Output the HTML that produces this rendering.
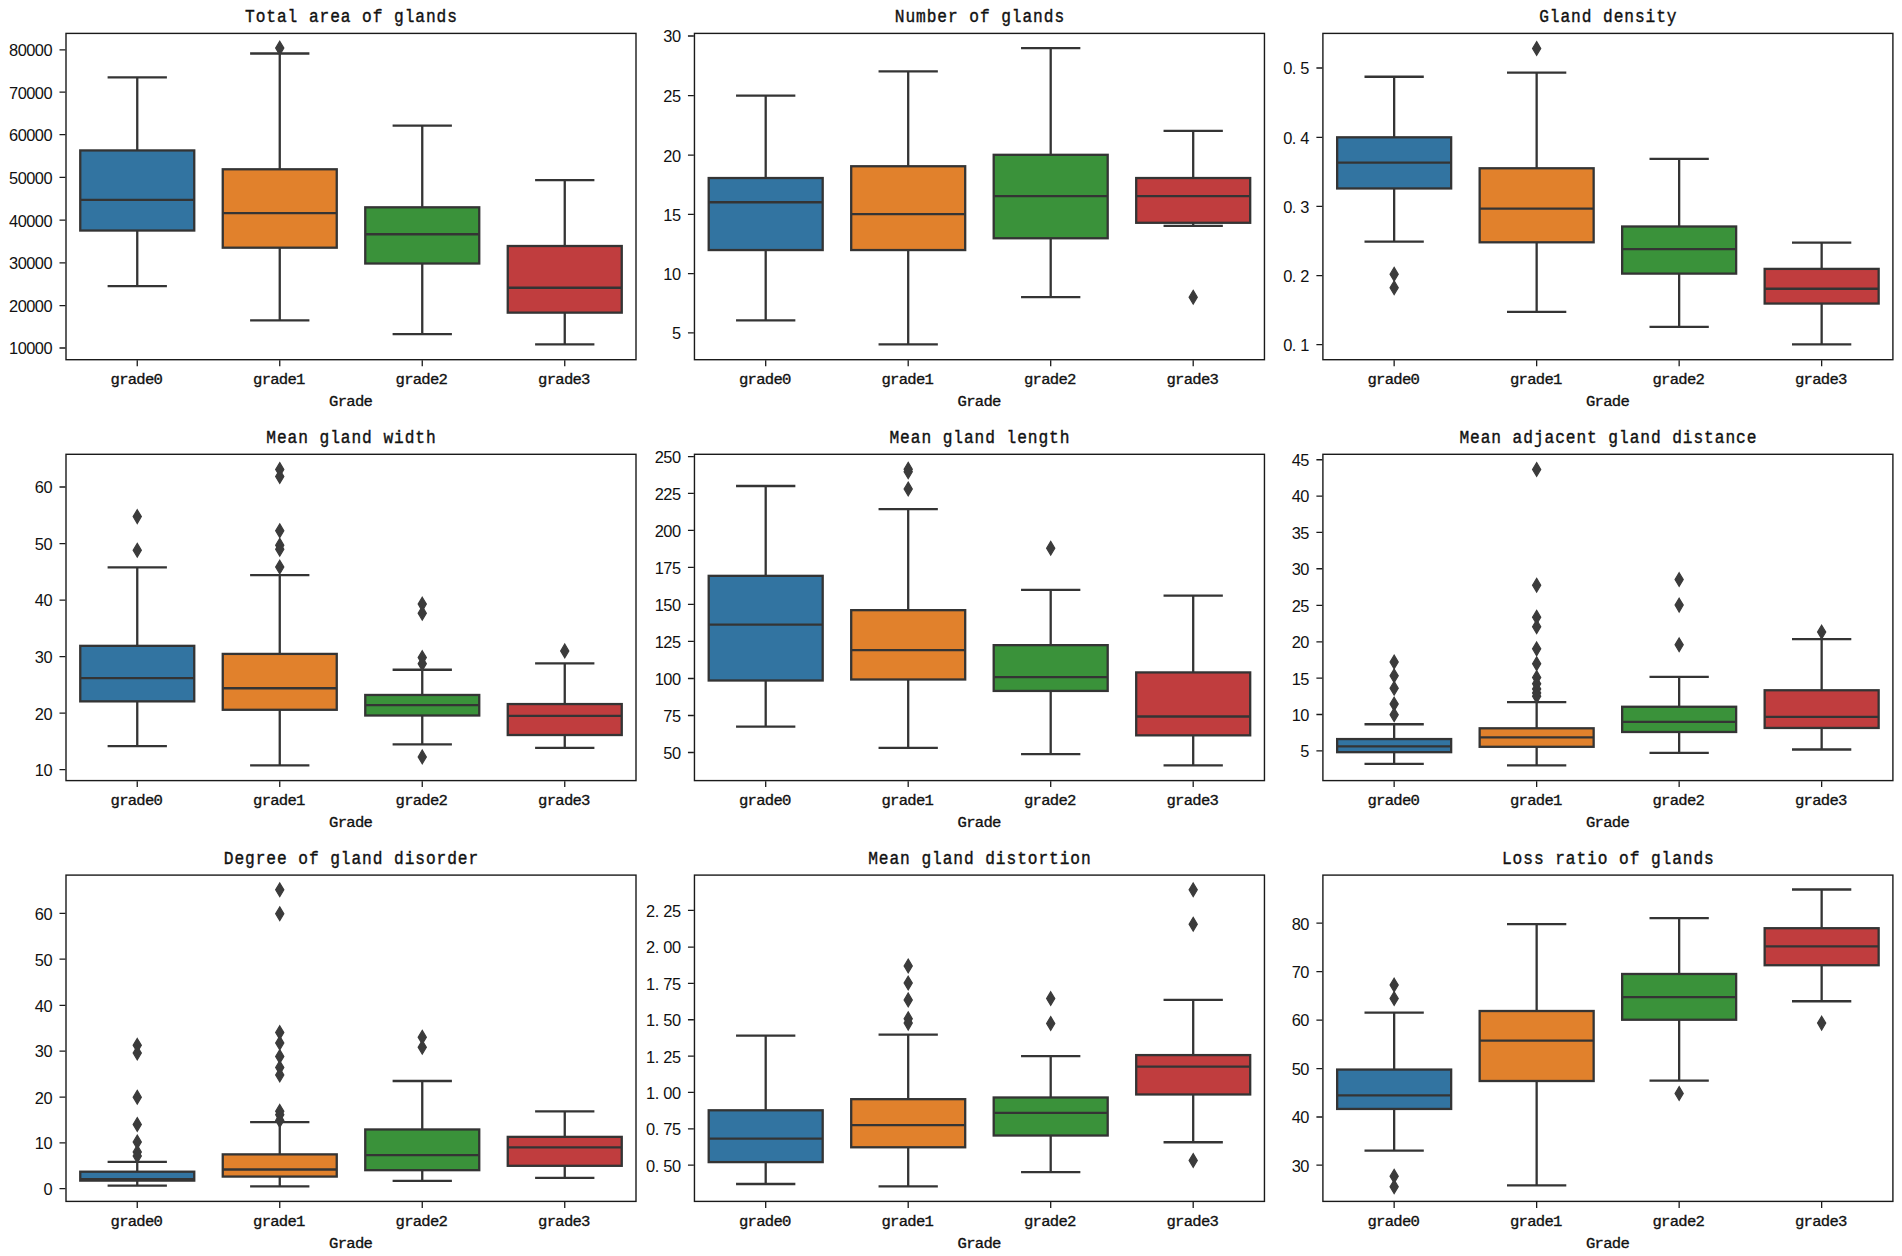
<!DOCTYPE html>
<html lang="en"><head><meta charset="utf-8"><title>Gland feature box plots by grade</title>
<style>
html,body{margin:0;padding:0;background:#fff}
svg{display:block}
text{fill:#111;white-space:pre}
.m{stroke:#111;stroke-width:.35}
.m{font-family:"Liberation Mono","DejaVu Sans Mono",monospace}
.n{font-family:"Liberation Sans","DejaVu Sans",sans-serif}
.l{stroke:#343434;stroke-width:2.3;fill:none;stroke-linecap:square}
.k{stroke-linecap:butt}
.b{stroke:#343434;stroke-width:2.3}
.d{fill:#3b3b3b;stroke:#3b3b3b;stroke-width:1.2;stroke-linejoin:miter}
.s{fill:none;stroke:#1a1a1a;stroke-width:1.4}
.t{stroke:#1a1a1a;stroke-width:1.3;fill:none}
</style></head><body>
<svg width="1902" height="1256" viewBox="0 0 1902 1256">
<rect width="1902" height="1256" fill="#fff"/>
<g>
<path class="l" d="M137.25 77.4V150.43M137.25 230.53V286.06M108.75 77.4H165.75M108.75 286.06H165.75"/>
<rect class="b" x="80.25" y="150.43" width="114" height="80.1" fill="#3274a1"/>
<path class="l k" d="M80.25 199.9H194.25"/>
<path class="l" d="M279.75 53.51V169.28M279.75 247.69V320.38M251.25 53.51H308.25M251.25 320.38H308.25"/>
<rect class="b" x="222.75" y="169.28" width="114" height="78.41" fill="#e1812c"/>
<path class="l k" d="M222.75 213.03H336.75"/>
<path class="d" d="M279.75 41.27l4.1 6.85l-4.1 6.85l-4.1 -6.85z"/>
<path class="l" d="M422.25 125.53V207.31M422.25 263.51V334.18M393.75 125.53H450.75M393.75 334.18H450.75"/>
<rect class="b" x="365.25" y="207.31" width="114" height="56.2" fill="#3a923a"/>
<path class="l k" d="M365.25 234.23H479.25"/>
<path class="l" d="M564.75 180.05V246.01M564.75 312.64V344.28M536.25 180.05H593.25M536.25 344.28H593.25"/>
<rect class="b" x="507.75" y="246.01" width="114" height="66.63" fill="#c03d3e"/>
<path class="l k" d="M507.75 287.74H621.75"/>
<rect class="s" x="66" y="33.4" width="570" height="326.3"/>
<path class="t" d="M65.4 49.81h-5.9M65.4 92.21h-5.9M65.4 134.62h-5.9M65.4 177.36h-5.9M65.4 220.1h-5.9M65.4 262.84h-5.9M65.4 305.58h-5.9M65.4 347.98h-5.9M137.25 360.3v5.9M279.75 360.3v5.9M422.25 360.3v5.9M564.75 360.3v5.9"/>
<text class="n" x="9.04 17.64 26.24 34.84 43.44" y="56.21" font-size="16.4">80000</text>
<text class="n" x="9.04 17.64 26.24 34.84 43.44" y="98.61" font-size="16.4">70000</text>
<text class="n" x="9.04 17.64 26.24 34.84 43.44" y="141.02" font-size="16.4">60000</text>
<text class="n" x="9.04 17.64 26.24 34.84 43.44" y="183.76" font-size="16.4">50000</text>
<text class="n" x="9.04 17.64 26.24 34.84 43.44" y="226.5" font-size="16.4">40000</text>
<text class="n" x="9.04 17.64 26.24 34.84 43.44" y="269.24" font-size="16.4">30000</text>
<text class="n" x="9.04 17.64 26.24 34.84 43.44" y="311.98" font-size="16.4">20000</text>
<text class="n" x="9.04 17.64 26.24 34.84 43.44" y="354.38" font-size="16.4">10000</text>
<text class="m" transform="translate(0 384.2) scale(1 0.88)" x="110.52 119.14 127.76 136.38 145 153.62" y="0" font-size="15.6">grade0</text>
<text class="m" transform="translate(0 384.2) scale(1 0.88)" x="253.02 261.64 270.26 278.88 287.5 296.12" y="0" font-size="15.6">grade1</text>
<text class="m" transform="translate(0 384.2) scale(1 0.88)" x="395.52 404.14 412.76 421.38 430 438.62" y="0" font-size="15.6">grade2</text>
<text class="m" transform="translate(0 384.2) scale(1 0.88)" x="538.02 546.64 555.26 563.88 572.5 581.12" y="0" font-size="15.6">grade3</text>
<text class="m" transform="translate(0 406.3) scale(1 0.88)" x="329.08 337.7 346.32 354.94 363.56" y="0" font-size="15.6">Grade</text>
<text class="m" transform="translate(0 21.8) scale(1 1.19)" x="245.06 255.7 266.34 276.98 287.62 298.26 308.9 319.54 330.18 340.82 351.46 362.1 372.74 383.38 394.02 404.66 415.3 425.94 436.58 447.22" y="0" font-size="16.2">Total area of glands</text>
</g>
<g>
<path class="l" d="M765.7 95.58V178.03M765.7 250.05V320.38M737.2 95.58H794.2M737.2 320.38H794.2"/>
<rect class="b" x="708.7" y="178.03" width="114" height="72.02" fill="#3274a1"/>
<path class="l k" d="M708.7 202.26H822.7"/>
<path class="l" d="M908.2 71.35V166.25M908.2 250.05V344.28M879.7 71.35H936.7M879.7 344.28H936.7"/>
<rect class="b" x="851.2" y="166.25" width="114" height="83.8" fill="#e1812c"/>
<path class="l k" d="M851.2 214.04H965.2"/>
<path class="l" d="M1050.7 48.12V154.81M1050.7 238.27V297.16M1022.2 48.12H1079.2M1022.2 297.16H1079.2"/>
<rect class="b" x="993.7" y="154.81" width="114" height="83.46" fill="#3a923a"/>
<path class="l k" d="M993.7 196.2H1107.7"/>
<path class="l" d="M1193.2 130.91V178.03M1193.2 222.79V225.82M1164.7 130.91H1221.7M1164.7 225.82H1221.7"/>
<rect class="b" x="1136.2" y="178.03" width="114" height="44.76" fill="#c03d3e"/>
<path class="l k" d="M1136.2 196.2H1250.2"/>
<path class="d" d="M1193.2 290.31l4.1 6.85l-4.1 6.85l-4.1 -6.85z"/>
<rect class="s" x="694.45" y="33.4" width="570" height="326.3"/>
<path class="t" d="M693.85 36.01h-5.9M693.85 95.58h-5.9M693.85 155.14h-5.9M693.85 214.38h-5.9M693.85 273.61h-5.9M693.85 332.84h-5.9M765.7 360.3v5.9M908.2 360.3v5.9M1050.7 360.3v5.9M1193.2 360.3v5.9"/>
<text class="n" x="663.29 671.89" y="42.41" font-size="16.4">30</text>
<text class="n" x="663.29 671.89" y="101.98" font-size="16.4">25</text>
<text class="n" x="663.29 671.89" y="161.54" font-size="16.4">20</text>
<text class="n" x="663.29 671.89" y="220.78" font-size="16.4">15</text>
<text class="n" x="663.29 671.89" y="280.01" font-size="16.4">10</text>
<text class="n" x="671.89" y="339.24" font-size="16.4">5</text>
<text class="m" transform="translate(0 384.2) scale(1 0.88)" x="738.97 747.59 756.21 764.83 773.45 782.07" y="0" font-size="15.6">grade0</text>
<text class="m" transform="translate(0 384.2) scale(1 0.88)" x="881.47 890.09 898.71 907.33 915.95 924.57" y="0" font-size="15.6">grade1</text>
<text class="m" transform="translate(0 384.2) scale(1 0.88)" x="1023.97 1032.59 1041.21 1049.83 1058.45 1067.07" y="0" font-size="15.6">grade2</text>
<text class="m" transform="translate(0 384.2) scale(1 0.88)" x="1166.47 1175.09 1183.71 1192.33 1200.95 1209.57" y="0" font-size="15.6">grade3</text>
<text class="m" transform="translate(0 406.3) scale(1 0.88)" x="957.53 966.15 974.77 983.39 992.01" y="0" font-size="15.6">Grade</text>
<text class="m" transform="translate(0 21.8) scale(1 1.19)" x="894.79 905.43 916.07 926.71 937.35 947.99 958.63 969.27 979.91 990.55 1001.19 1011.83 1022.47 1033.11 1043.75 1054.39" y="0" font-size="16.2">Number of glands</text>
</g>
<g>
<path class="l" d="M1394.15 76.73V137.31M1394.15 188.46V241.63M1365.65 76.73H1422.65M1365.65 241.63H1422.65"/>
<rect class="b" x="1337.15" y="137.31" width="114" height="51.15" fill="#3274a1"/>
<path class="l k" d="M1337.15 162.55H1451.15"/>
<path class="d" d="M1394.15 267.43l4.1 6.85l-4.1 6.85l-4.1 -6.85z"/>
<path class="d" d="M1394.15 280.89l4.1 6.85l-4.1 6.85l-4.1 -6.85z"/>
<path class="l" d="M1536.65 72.69V168.27M1536.65 242.31V311.97M1508.15 72.69H1565.15M1508.15 311.97H1565.15"/>
<rect class="b" x="1479.65" y="168.27" width="114" height="74.04" fill="#e1812c"/>
<path class="l k" d="M1479.65 208.65H1593.65"/>
<path class="d" d="M1536.65 41.61l4.1 6.85l-4.1 6.85l-4.1 -6.85z"/>
<path class="l" d="M1679.15 158.85V226.49M1679.15 273.61V326.78M1650.65 158.85H1707.65M1650.65 326.78H1707.65"/>
<rect class="b" x="1622.15" y="226.49" width="114" height="47.12" fill="#3a923a"/>
<path class="l k" d="M1622.15 249.04H1736.15"/>
<path class="l" d="M1821.65 242.64V268.89M1821.65 303.56V344.28M1793.15 242.64H1850.15M1793.15 344.28H1850.15"/>
<rect class="b" x="1764.65" y="268.89" width="114" height="34.66" fill="#c03d3e"/>
<path class="l k" d="M1764.65 288.75H1878.65"/>
<rect class="s" x="1322.9" y="33.4" width="570" height="326.3"/>
<path class="t" d="M1322.3 67.98h-5.9M1322.3 137.31h-5.9M1322.3 206.3h-5.9M1322.3 275.62h-5.9M1322.3 344.62h-5.9M1394.15 360.3v5.9M1536.65 360.3v5.9M1679.15 360.3v5.9M1821.65 360.3v5.9"/>
<text class="n" x="1283.14 1291.8 1300.34" y="74.38" font-size="16.4">0.5</text>
<text class="n" x="1283.14 1291.8 1300.34" y="143.71" font-size="16.4">0.4</text>
<text class="n" x="1283.14 1291.8 1300.34" y="212.7" font-size="16.4">0.3</text>
<text class="n" x="1283.14 1291.8 1300.34" y="282.02" font-size="16.4">0.2</text>
<text class="n" x="1283.14 1291.8 1300.34" y="351.02" font-size="16.4">0.1</text>
<text class="m" transform="translate(0 384.2) scale(1 0.88)" x="1367.42 1376.04 1384.66 1393.28 1401.9 1410.52" y="0" font-size="15.6">grade0</text>
<text class="m" transform="translate(0 384.2) scale(1 0.88)" x="1509.92 1518.54 1527.16 1535.78 1544.4 1553.02" y="0" font-size="15.6">grade1</text>
<text class="m" transform="translate(0 384.2) scale(1 0.88)" x="1652.42 1661.04 1669.66 1678.28 1686.9 1695.52" y="0" font-size="15.6">grade2</text>
<text class="m" transform="translate(0 384.2) scale(1 0.88)" x="1794.92 1803.54 1812.16 1820.78 1829.4 1838.02" y="0" font-size="15.6">grade3</text>
<text class="m" transform="translate(0 406.3) scale(1 0.88)" x="1585.98 1594.6 1603.22 1611.84 1620.46" y="0" font-size="15.6">Grade</text>
<text class="m" transform="translate(0 21.8) scale(1 1.19)" x="1539.2 1549.84 1560.48 1571.12 1581.76 1592.4 1603.04 1613.68 1624.32 1634.96 1645.6 1656.24 1666.88" y="0" font-size="16.2">Gland density</text>
</g>
<g>
<path class="l" d="M137.25 567.42V645.84M137.25 701.37V746.12M108.75 567.42H165.75M108.75 746.12H165.75"/>
<rect class="b" x="80.25" y="645.84" width="114" height="55.53" fill="#3274a1"/>
<path class="l k" d="M80.25 678.14H194.25"/>
<path class="d" d="M137.25 509.76l4.1 6.85l-4.1 6.85l-4.1 -6.85z"/>
<path class="d" d="M137.25 543.41l4.1 6.85l-4.1 6.85l-4.1 -6.85z"/>
<path class="l" d="M279.75 575.16V653.91M279.75 709.78V765.31M251.25 575.16H308.25M251.25 765.31H308.25"/>
<rect class="b" x="222.75" y="653.91" width="114" height="55.87" fill="#e1812c"/>
<path class="l k" d="M222.75 688.24H336.75"/>
<path class="d" d="M279.75 462.64l4.1 6.85l-4.1 6.85l-4.1 -6.85z"/>
<path class="d" d="M279.75 469.71l4.1 6.85l-4.1 6.85l-4.1 -6.85z"/>
<path class="d" d="M279.75 523.89l4.1 6.85l-4.1 6.85l-4.1 -6.85z"/>
<path class="d" d="M279.75 538.36l4.1 6.85l-4.1 6.85l-4.1 -6.85z"/>
<path class="d" d="M279.75 542.4l4.1 6.85l-4.1 6.85l-4.1 -6.85z"/>
<path class="d" d="M279.75 560.24l4.1 6.85l-4.1 6.85l-4.1 -6.85z"/>
<path class="l" d="M422.25 669.73V694.97M422.25 715.5V744.44M393.75 669.73H450.75M393.75 744.44H450.75"/>
<rect class="b" x="365.25" y="694.97" width="114" height="20.53" fill="#3a923a"/>
<path class="l k" d="M365.25 705.07H479.25"/>
<path class="d" d="M422.25 597.26l4.1 6.85l-4.1 6.85l-4.1 -6.85z"/>
<path class="d" d="M422.25 606.34l4.1 6.85l-4.1 6.85l-4.1 -6.85z"/>
<path class="d" d="M422.25 650.77l4.1 6.85l-4.1 6.85l-4.1 -6.85z"/>
<path class="d" d="M422.25 656.82l4.1 6.85l-4.1 6.85l-4.1 -6.85z"/>
<path class="d" d="M422.25 750.04l4.1 6.85l-4.1 6.85l-4.1 -6.85z"/>
<path class="l" d="M564.75 663.34V704.06M564.75 735.02V747.81M536.25 663.34H593.25M536.25 747.81H593.25"/>
<rect class="b" x="507.75" y="704.06" width="114" height="30.96" fill="#c03d3e"/>
<path class="l k" d="M507.75 715.84H621.75"/>
<path class="d" d="M564.75 644.03l4.1 6.85l-4.1 6.85l-4.1 -6.85z"/>
<rect class="s" x="66" y="454.3" width="570" height="326.3"/>
<path class="t" d="M65.4 486.99h-5.9M65.4 543.53h-5.9M65.4 600.07h-5.9M65.4 656.61h-5.9M65.4 713.14h-5.9M65.4 769.68h-5.9M137.25 781.2v5.9M279.75 781.2v5.9M422.25 781.2v5.9M564.75 781.2v5.9"/>
<text class="n" x="34.84 43.44" y="493.39" font-size="16.4">60</text>
<text class="n" x="34.84 43.44" y="549.93" font-size="16.4">50</text>
<text class="n" x="34.84 43.44" y="606.47" font-size="16.4">40</text>
<text class="n" x="34.84 43.44" y="663.01" font-size="16.4">30</text>
<text class="n" x="34.84 43.44" y="719.54" font-size="16.4">20</text>
<text class="n" x="34.84 43.44" y="776.08" font-size="16.4">10</text>
<text class="m" transform="translate(0 805.1) scale(1 0.88)" x="110.52 119.14 127.76 136.38 145 153.62" y="0" font-size="15.6">grade0</text>
<text class="m" transform="translate(0 805.1) scale(1 0.88)" x="253.02 261.64 270.26 278.88 287.5 296.12" y="0" font-size="15.6">grade1</text>
<text class="m" transform="translate(0 805.1) scale(1 0.88)" x="395.52 404.14 412.76 421.38 430 438.62" y="0" font-size="15.6">grade2</text>
<text class="m" transform="translate(0 805.1) scale(1 0.88)" x="538.02 546.64 555.26 563.88 572.5 581.12" y="0" font-size="15.6">grade3</text>
<text class="m" transform="translate(0 827.2) scale(1 0.88)" x="329.08 337.7 346.32 354.94 363.56" y="0" font-size="15.6">Grade</text>
<text class="m" transform="translate(0 442.7) scale(1 1.19)" x="266.34 276.98 287.62 298.26 308.9 319.54 330.18 340.82 351.46 362.1 372.74 383.38 394.02 404.66 415.3 425.94" y="0" font-size="16.2">Mean gland width</text>
</g>
<g>
<path class="l" d="M765.7 485.98V575.84M765.7 680.5V726.61M737.2 485.98H794.2M737.2 726.61H794.2"/>
<rect class="b" x="708.7" y="575.84" width="114" height="104.66" fill="#3274a1"/>
<path class="l k" d="M708.7 624.63H822.7"/>
<path class="l" d="M908.2 509.2V610.16M908.2 679.49V747.81M879.7 509.2H936.7M879.7 747.81H936.7"/>
<rect class="b" x="851.2" y="610.16" width="114" height="69.33" fill="#e1812c"/>
<path class="l k" d="M851.2 650.21H965.2"/>
<path class="d" d="M908.2 462.3l4.1 6.85l-4.1 6.85l-4.1 -6.85z"/>
<path class="d" d="M908.2 465l4.1 6.85l-4.1 6.85l-4.1 -6.85z"/>
<path class="d" d="M908.2 482.16l4.1 6.85l-4.1 6.85l-4.1 -6.85z"/>
<path class="l" d="M1050.7 589.97V645.16M1050.7 690.93V754.2M1022.2 589.97H1079.2M1022.2 754.2H1079.2"/>
<rect class="b" x="993.7" y="645.16" width="114" height="45.77" fill="#3a923a"/>
<path class="l k" d="M993.7 677.13H1107.7"/>
<path class="d" d="M1050.7 541.39l4.1 6.85l-4.1 6.85l-4.1 -6.85z"/>
<path class="l" d="M1193.2 595.69V672.42M1193.2 735.36V765.31M1164.7 595.69H1221.7M1164.7 765.31H1221.7"/>
<rect class="b" x="1136.2" y="672.42" width="114" height="62.93" fill="#c03d3e"/>
<path class="l k" d="M1136.2 716.51H1250.2"/>
<rect class="s" x="694.45" y="454.3" width="570" height="326.3"/>
<path class="t" d="M693.85 456.7h-5.9M693.85 493.38h-5.9M693.85 530.4h-5.9M693.85 567.42h-5.9M693.85 604.44h-5.9M693.85 641.46h-5.9M693.85 678.48h-5.9M693.85 715.5h-5.9M693.85 752.52h-5.9M765.7 781.2v5.9M908.2 781.2v5.9M1050.7 781.2v5.9M1193.2 781.2v5.9"/>
<text class="n" x="654.69 663.29 671.89" y="463.1" font-size="16.4">250</text>
<text class="n" x="654.69 663.29 671.89" y="499.78" font-size="16.4">225</text>
<text class="n" x="654.69 663.29 671.89" y="536.8" font-size="16.4">200</text>
<text class="n" x="654.69 663.29 671.89" y="573.82" font-size="16.4">175</text>
<text class="n" x="654.69 663.29 671.89" y="610.84" font-size="16.4">150</text>
<text class="n" x="654.69 663.29 671.89" y="647.86" font-size="16.4">125</text>
<text class="n" x="654.69 663.29 671.89" y="684.88" font-size="16.4">100</text>
<text class="n" x="663.29 671.89" y="721.9" font-size="16.4">75</text>
<text class="n" x="663.29 671.89" y="758.92" font-size="16.4">50</text>
<text class="m" transform="translate(0 805.1) scale(1 0.88)" x="738.97 747.59 756.21 764.83 773.45 782.07" y="0" font-size="15.6">grade0</text>
<text class="m" transform="translate(0 805.1) scale(1 0.88)" x="881.47 890.09 898.71 907.33 915.95 924.57" y="0" font-size="15.6">grade1</text>
<text class="m" transform="translate(0 805.1) scale(1 0.88)" x="1023.97 1032.59 1041.21 1049.83 1058.45 1067.07" y="0" font-size="15.6">grade2</text>
<text class="m" transform="translate(0 805.1) scale(1 0.88)" x="1166.47 1175.09 1183.71 1192.33 1200.95 1209.57" y="0" font-size="15.6">grade3</text>
<text class="m" transform="translate(0 827.2) scale(1 0.88)" x="957.53 966.15 974.77 983.39 992.01" y="0" font-size="15.6">Grade</text>
<text class="m" transform="translate(0 442.7) scale(1 1.19)" x="889.47 900.11 910.75 921.39 932.03 942.67 953.31 963.95 974.59 985.23 995.87 1006.51 1017.15 1027.79 1038.43 1049.07 1059.71" y="0" font-size="16.2">Mean gland length</text>
</g>
<g>
<path class="l" d="M1394.15 724.25V739.06M1394.15 752.18V763.96M1365.65 724.25H1422.65M1365.65 763.96H1422.65"/>
<rect class="b" x="1337.15" y="739.06" width="114" height="13.12" fill="#3274a1"/>
<path class="l k" d="M1337.15 746.46H1451.15"/>
<path class="d" d="M1394.15 655.14l4.1 6.85l-4.1 6.85l-4.1 -6.85z"/>
<path class="d" d="M1394.15 668.94l4.1 6.85l-4.1 6.85l-4.1 -6.85z"/>
<path class="d" d="M1394.15 681.39l4.1 6.85l-4.1 6.85l-4.1 -6.85z"/>
<path class="d" d="M1394.15 697.21l4.1 6.85l-4.1 6.85l-4.1 -6.85z"/>
<path class="d" d="M1394.15 707.98l4.1 6.85l-4.1 6.85l-4.1 -6.85z"/>
<path class="l" d="M1536.65 702.04V728.29M1536.65 746.8V765.31M1508.15 702.04H1565.15M1508.15 765.31H1565.15"/>
<rect class="b" x="1479.65" y="728.29" width="114" height="18.51" fill="#e1812c"/>
<path class="l k" d="M1479.65 737.38H1593.65"/>
<path class="d" d="M1536.65 462.64l4.1 6.85l-4.1 6.85l-4.1 -6.85z"/>
<path class="d" d="M1536.65 578.41l4.1 6.85l-4.1 6.85l-4.1 -6.85z"/>
<path class="d" d="M1536.65 610.38l4.1 6.85l-4.1 6.85l-4.1 -6.85z"/>
<path class="d" d="M1536.65 619.8l4.1 6.85l-4.1 6.85l-4.1 -6.85z"/>
<path class="d" d="M1536.65 642.02l4.1 6.85l-4.1 6.85l-4.1 -6.85z"/>
<path class="d" d="M1536.65 656.82l4.1 6.85l-4.1 6.85l-4.1 -6.85z"/>
<path class="d" d="M1536.65 670.62l4.1 6.85l-4.1 6.85l-4.1 -6.85z"/>
<path class="d" d="M1536.65 677.02l4.1 6.85l-4.1 6.85l-4.1 -6.85z"/>
<path class="d" d="M1536.65 682.06l4.1 6.85l-4.1 6.85l-4.1 -6.85z"/>
<path class="d" d="M1536.65 686.1l4.1 6.85l-4.1 6.85l-4.1 -6.85z"/>
<path class="d" d="M1536.65 689.47l4.1 6.85l-4.1 6.85l-4.1 -6.85z"/>
<path class="l" d="M1679.15 676.8V706.75M1679.15 731.99V752.86M1650.65 676.8H1707.65M1650.65 752.86H1707.65"/>
<rect class="b" x="1622.15" y="706.75" width="114" height="25.24" fill="#3a923a"/>
<path class="l k" d="M1622.15 721.89H1736.15"/>
<path class="d" d="M1679.15 572.69l4.1 6.85l-4.1 6.85l-4.1 -6.85z"/>
<path class="d" d="M1679.15 598.27l4.1 6.85l-4.1 6.85l-4.1 -6.85z"/>
<path class="d" d="M1679.15 637.98l4.1 6.85l-4.1 6.85l-4.1 -6.85z"/>
<path class="l" d="M1821.65 639.11V690.26M1821.65 727.95V749.49M1793.15 639.11H1850.15M1793.15 749.49H1850.15"/>
<rect class="b" x="1764.65" y="690.26" width="114" height="37.69" fill="#c03d3e"/>
<path class="l k" d="M1764.65 716.85H1878.65"/>
<path class="d" d="M1821.65 625.19l4.1 6.85l-4.1 6.85l-4.1 -6.85z"/>
<rect class="s" x="1322.9" y="454.3" width="570" height="326.3"/>
<path class="t" d="M1322.3 459.73h-5.9M1322.3 496.08h-5.9M1322.3 532.42h-5.9M1322.3 568.77h-5.9M1322.3 605.45h-5.9M1322.3 641.8h-5.9M1322.3 678.14h-5.9M1322.3 714.49h-5.9M1322.3 750.84h-5.9M1394.15 781.2v5.9M1536.65 781.2v5.9M1679.15 781.2v5.9M1821.65 781.2v5.9"/>
<text class="n" x="1291.74 1300.34" y="466.13" font-size="16.4">45</text>
<text class="n" x="1291.74 1300.34" y="502.48" font-size="16.4">40</text>
<text class="n" x="1291.74 1300.34" y="538.82" font-size="16.4">35</text>
<text class="n" x="1291.74 1300.34" y="575.17" font-size="16.4">30</text>
<text class="n" x="1291.74 1300.34" y="611.85" font-size="16.4">25</text>
<text class="n" x="1291.74 1300.34" y="648.2" font-size="16.4">20</text>
<text class="n" x="1291.74 1300.34" y="684.54" font-size="16.4">15</text>
<text class="n" x="1291.74 1300.34" y="720.89" font-size="16.4">10</text>
<text class="n" x="1300.34" y="757.24" font-size="16.4">5</text>
<text class="m" transform="translate(0 805.1) scale(1 0.88)" x="1367.42 1376.04 1384.66 1393.28 1401.9 1410.52" y="0" font-size="15.6">grade0</text>
<text class="m" transform="translate(0 805.1) scale(1 0.88)" x="1509.92 1518.54 1527.16 1535.78 1544.4 1553.02" y="0" font-size="15.6">grade1</text>
<text class="m" transform="translate(0 805.1) scale(1 0.88)" x="1652.42 1661.04 1669.66 1678.28 1686.9 1695.52" y="0" font-size="15.6">grade2</text>
<text class="m" transform="translate(0 805.1) scale(1 0.88)" x="1794.92 1803.54 1812.16 1820.78 1829.4 1838.02" y="0" font-size="15.6">grade3</text>
<text class="m" transform="translate(0 827.2) scale(1 0.88)" x="1585.98 1594.6 1603.22 1611.84 1620.46" y="0" font-size="15.6">Grade</text>
<text class="m" transform="translate(0 442.7) scale(1 1.19)" x="1459.4 1470.04 1480.68 1491.32 1501.96 1512.6 1523.24 1533.88 1544.52 1555.16 1565.8 1576.44 1587.08 1597.72 1608.36 1619 1629.64 1640.28 1650.92 1661.56 1672.2 1682.84 1693.48 1704.12 1714.76 1725.4 1736.04 1746.68" y="0" font-size="16.2">Mean adjacent gland distance</text>
</g>
<g>
<path class="l" d="M137.25 1161.94V1171.7M137.25 1180.62V1185.66M108.75 1161.94H165.75M108.75 1185.66H165.75"/>
<rect class="b" x="80.25" y="1171.7" width="114" height="8.92" fill="#3274a1"/>
<path class="l k" d="M80.25 1179.1H194.25"/>
<path class="d" d="M137.25 1038.48l4.1 6.85l-4.1 6.85l-4.1 -6.85z"/>
<path class="d" d="M137.25 1046.22l4.1 6.85l-4.1 6.85l-4.1 -6.85z"/>
<path class="d" d="M137.25 1090.3l4.1 6.85l-4.1 6.85l-4.1 -6.85z"/>
<path class="d" d="M137.25 1117.56l4.1 6.85l-4.1 6.85l-4.1 -6.85z"/>
<path class="d" d="M137.25 1135.06l4.1 6.85l-4.1 6.85l-4.1 -6.85z"/>
<path class="d" d="M137.25 1145.16l4.1 6.85l-4.1 6.85l-4.1 -6.85z"/>
<path class="d" d="M137.25 1149.2l4.1 6.85l-4.1 6.85l-4.1 -6.85z"/>
<path class="l" d="M279.75 1122.06V1154.37M279.75 1176.58V1186.34M251.25 1122.06H308.25M251.25 1186.34H308.25"/>
<rect class="b" x="222.75" y="1154.37" width="114" height="22.21" fill="#e1812c"/>
<path class="l k" d="M222.75 1169.51H336.75"/>
<path class="d" d="M279.75 883l4.1 6.85l-4.1 6.85l-4.1 -6.85z"/>
<path class="d" d="M279.75 906.89l4.1 6.85l-4.1 6.85l-4.1 -6.85z"/>
<path class="d" d="M279.75 1025.69l4.1 6.85l-4.1 6.85l-4.1 -6.85z"/>
<path class="d" d="M279.75 1036.12l4.1 6.85l-4.1 6.85l-4.1 -6.85z"/>
<path class="d" d="M279.75 1049.58l4.1 6.85l-4.1 6.85l-4.1 -6.85z"/>
<path class="d" d="M279.75 1060.69l4.1 6.85l-4.1 6.85l-4.1 -6.85z"/>
<path class="d" d="M279.75 1068.09l4.1 6.85l-4.1 6.85l-4.1 -6.85z"/>
<path class="d" d="M279.75 1104.44l4.1 6.85l-4.1 6.85l-4.1 -6.85z"/>
<path class="d" d="M279.75 1107.8l4.1 6.85l-4.1 6.85l-4.1 -6.85z"/>
<path class="d" d="M279.75 1113.53l4.1 6.85l-4.1 6.85l-4.1 -6.85z"/>
<path class="l" d="M422.25 1081V1129.46M422.25 1170.18V1180.95M393.75 1081H450.75M393.75 1180.95H450.75"/>
<rect class="b" x="365.25" y="1129.46" width="114" height="40.72" fill="#3a923a"/>
<path class="l k" d="M365.25 1155.04H479.25"/>
<path class="d" d="M422.25 1030.4l4.1 6.85l-4.1 6.85l-4.1 -6.85z"/>
<path class="d" d="M422.25 1040.5l4.1 6.85l-4.1 6.85l-4.1 -6.85z"/>
<path class="l" d="M564.75 1111.29V1136.87M564.75 1165.81V1177.92M536.25 1111.29H593.25M536.25 1177.92H593.25"/>
<rect class="b" x="507.75" y="1136.87" width="114" height="28.94" fill="#c03d3e"/>
<path class="l k" d="M507.75 1147.3H621.75"/>
<rect class="s" x="66" y="875.1" width="570" height="326.3"/>
<path class="t" d="M65.4 913.4h-5.9M65.4 959.17h-5.9M65.4 1005.28h-5.9M65.4 1051.05h-5.9M65.4 1097.15h-5.9M65.4 1142.92h-5.9M65.4 1188.69h-5.9M137.25 1202v5.9M279.75 1202v5.9M422.25 1202v5.9M564.75 1202v5.9"/>
<text class="n" x="34.84 43.44" y="919.8" font-size="16.4">60</text>
<text class="n" x="34.84 43.44" y="965.57" font-size="16.4">50</text>
<text class="n" x="34.84 43.44" y="1011.68" font-size="16.4">40</text>
<text class="n" x="34.84 43.44" y="1057.45" font-size="16.4">30</text>
<text class="n" x="34.84 43.44" y="1103.55" font-size="16.4">20</text>
<text class="n" x="34.84 43.44" y="1149.32" font-size="16.4">10</text>
<text class="n" x="43.44" y="1195.09" font-size="16.4">0</text>
<text class="m" transform="translate(0 1225.9) scale(1 0.88)" x="110.52 119.14 127.76 136.38 145 153.62" y="0" font-size="15.6">grade0</text>
<text class="m" transform="translate(0 1225.9) scale(1 0.88)" x="253.02 261.64 270.26 278.88 287.5 296.12" y="0" font-size="15.6">grade1</text>
<text class="m" transform="translate(0 1225.9) scale(1 0.88)" x="395.52 404.14 412.76 421.38 430 438.62" y="0" font-size="15.6">grade2</text>
<text class="m" transform="translate(0 1225.9) scale(1 0.88)" x="538.02 546.64 555.26 563.88 572.5 581.12" y="0" font-size="15.6">grade3</text>
<text class="m" transform="translate(0 1248) scale(1 0.88)" x="329.08 337.7 346.32 354.94 363.56" y="0" font-size="15.6">Grade</text>
<text class="m" transform="translate(0 863.5) scale(1 1.19)" x="223.78 234.42 245.06 255.7 266.34 276.98 287.62 298.26 308.9 319.54 330.18 340.82 351.46 362.1 372.74 383.38 394.02 404.66 415.3 425.94 436.58 447.22 457.86 468.5" y="0" font-size="16.2">Degree of gland disorder</text>
</g>
<g>
<path class="l" d="M765.7 1035.57V1110.28M765.7 1162.11V1183.98M737.2 1035.57H794.2M737.2 1183.98H794.2"/>
<rect class="b" x="708.7" y="1110.28" width="114" height="51.83" fill="#3274a1"/>
<path class="l k" d="M708.7 1138.55H822.7"/>
<path class="l" d="M908.2 1034.56V1099.17M908.2 1147.3V1186.34M879.7 1034.56H936.7M879.7 1186.34H936.7"/>
<rect class="b" x="851.2" y="1099.17" width="114" height="48.12" fill="#e1812c"/>
<path class="l k" d="M851.2 1125.09H965.2"/>
<path class="d" d="M908.2 959.05l4.1 6.85l-4.1 6.85l-4.1 -6.85z"/>
<path class="d" d="M908.2 976.22l4.1 6.85l-4.1 6.85l-4.1 -6.85z"/>
<path class="d" d="M908.2 993.04l4.1 6.85l-4.1 6.85l-4.1 -6.85z"/>
<path class="d" d="M908.2 1011.89l4.1 6.85l-4.1 6.85l-4.1 -6.85z"/>
<path class="d" d="M908.2 1016.27l4.1 6.85l-4.1 6.85l-4.1 -6.85z"/>
<path class="l" d="M1050.7 1056.1V1097.49M1050.7 1135.52V1172.2M1022.2 1056.1H1079.2M1022.2 1172.2H1079.2"/>
<rect class="b" x="993.7" y="1097.49" width="114" height="38.03" fill="#3a923a"/>
<path class="l k" d="M993.7 1112.97H1107.7"/>
<path class="d" d="M1050.7 991.7l4.1 6.85l-4.1 6.85l-4.1 -6.85z"/>
<path class="d" d="M1050.7 1016.6l4.1 6.85l-4.1 6.85l-4.1 -6.85z"/>
<path class="l" d="M1193.2 999.89V1055.09M1193.2 1094.46V1142.25M1164.7 999.89H1221.7M1164.7 1142.25H1221.7"/>
<rect class="b" x="1136.2" y="1055.09" width="114" height="39.38" fill="#c03d3e"/>
<path class="l k" d="M1136.2 1066.53H1250.2"/>
<path class="d" d="M1193.2 883l4.1 6.85l-4.1 6.85l-4.1 -6.85z"/>
<path class="d" d="M1193.2 917.32l4.1 6.85l-4.1 6.85l-4.1 -6.85z"/>
<path class="d" d="M1193.2 1153.57l4.1 6.85l-4.1 6.85l-4.1 -6.85z"/>
<rect class="s" x="694.45" y="875.1" width="570" height="326.3"/>
<path class="t" d="M693.85 910.38h-5.9M693.85 947.06h-5.9M693.85 983.4h-5.9M693.85 1019.75h-5.9M693.85 1056.1h-5.9M693.85 1092.44h-5.9M693.85 1128.79h-5.9M693.85 1165.13h-5.9M765.7 1202v5.9M908.2 1202v5.9M1050.7 1202v5.9M1193.2 1202v5.9"/>
<text class="n" x="646.09 654.75 663.29 671.89" y="916.77" font-size="16.4">2.25</text>
<text class="n" x="646.09 654.75 663.29 671.89" y="953.46" font-size="16.4">2.00</text>
<text class="n" x="646.09 654.75 663.29 671.89" y="989.8" font-size="16.4">1.75</text>
<text class="n" x="646.09 654.75 663.29 671.89" y="1026.15" font-size="16.4">1.50</text>
<text class="n" x="646.09 654.75 663.29 671.89" y="1062.5" font-size="16.4">1.25</text>
<text class="n" x="646.09 654.75 663.29 671.89" y="1098.84" font-size="16.4">1.00</text>
<text class="n" x="646.09 654.75 663.29 671.89" y="1135.19" font-size="16.4">0.75</text>
<text class="n" x="646.09 654.75 663.29 671.89" y="1171.53" font-size="16.4">0.50</text>
<text class="m" transform="translate(0 1225.9) scale(1 0.88)" x="738.97 747.59 756.21 764.83 773.45 782.07" y="0" font-size="15.6">grade0</text>
<text class="m" transform="translate(0 1225.9) scale(1 0.88)" x="881.47 890.09 898.71 907.33 915.95 924.57" y="0" font-size="15.6">grade1</text>
<text class="m" transform="translate(0 1225.9) scale(1 0.88)" x="1023.97 1032.59 1041.21 1049.83 1058.45 1067.07" y="0" font-size="15.6">grade2</text>
<text class="m" transform="translate(0 1225.9) scale(1 0.88)" x="1166.47 1175.09 1183.71 1192.33 1200.95 1209.57" y="0" font-size="15.6">grade3</text>
<text class="m" transform="translate(0 1248) scale(1 0.88)" x="957.53 966.15 974.77 983.39 992.01" y="0" font-size="15.6">Grade</text>
<text class="m" transform="translate(0 863.5) scale(1 1.19)" x="868.19 878.83 889.47 900.11 910.75 921.39 932.03 942.67 953.31 963.95 974.59 985.23 995.87 1006.51 1017.15 1027.79 1038.43 1049.07 1059.71 1070.35 1080.99" y="0" font-size="16.2">Mean gland distortion</text>
</g>
<g>
<path class="l" d="M1394.15 1012.68V1069.56M1394.15 1108.93V1150.66M1365.65 1012.68H1422.65M1365.65 1150.66H1422.65"/>
<rect class="b" x="1337.15" y="1069.56" width="114" height="39.38" fill="#3274a1"/>
<path class="l k" d="M1337.15 1095.47H1451.15"/>
<path class="d" d="M1394.15 978.24l4.1 6.85l-4.1 6.85l-4.1 -6.85z"/>
<path class="d" d="M1394.15 991.7l4.1 6.85l-4.1 6.85l-4.1 -6.85z"/>
<path class="d" d="M1394.15 1169.39l4.1 6.85l-4.1 6.85l-4.1 -6.85z"/>
<path class="d" d="M1394.15 1179.82l4.1 6.85l-4.1 6.85l-4.1 -6.85z"/>
<path class="l" d="M1536.65 924.17V1011M1536.65 1081V1185.33M1508.15 924.17H1565.15M1508.15 1185.33H1565.15"/>
<rect class="b" x="1479.65" y="1011" width="114" height="70" fill="#e1812c"/>
<path class="l k" d="M1479.65 1040.62H1593.65"/>
<path class="l" d="M1679.15 918.12V973.98M1679.15 1019.75V1080.66M1650.65 918.12H1707.65M1650.65 1080.66H1707.65"/>
<rect class="b" x="1622.15" y="973.98" width="114" height="45.77" fill="#3a923a"/>
<path class="l k" d="M1622.15 997.2H1736.15"/>
<path class="d" d="M1679.15 1086.6l4.1 6.85l-4.1 6.85l-4.1 -6.85z"/>
<path class="l" d="M1821.65 889.51V928.21M1821.65 965.23V1001.24M1793.15 889.51H1850.15M1793.15 1001.24H1850.15"/>
<rect class="b" x="1764.65" y="928.21" width="114" height="37.02" fill="#c03d3e"/>
<path class="l k" d="M1764.65 946.38H1878.65"/>
<path class="d" d="M1821.65 1016.27l4.1 6.85l-4.1 6.85l-4.1 -6.85z"/>
<rect class="s" x="1322.9" y="875.1" width="570" height="326.3"/>
<path class="t" d="M1322.3 923.16h-5.9M1322.3 971.62h-5.9M1322.3 1020.09h-5.9M1322.3 1068.55h-5.9M1322.3 1117.01h-5.9M1322.3 1165.13h-5.9M1394.15 1202v5.9M1536.65 1202v5.9M1679.15 1202v5.9M1821.65 1202v5.9"/>
<text class="n" x="1291.74 1300.34" y="929.56" font-size="16.4">80</text>
<text class="n" x="1291.74 1300.34" y="978.02" font-size="16.4">70</text>
<text class="n" x="1291.74 1300.34" y="1026.49" font-size="16.4">60</text>
<text class="n" x="1291.74 1300.34" y="1074.95" font-size="16.4">50</text>
<text class="n" x="1291.74 1300.34" y="1123.41" font-size="16.4">40</text>
<text class="n" x="1291.74 1300.34" y="1171.53" font-size="16.4">30</text>
<text class="m" transform="translate(0 1225.9) scale(1 0.88)" x="1367.42 1376.04 1384.66 1393.28 1401.9 1410.52" y="0" font-size="15.6">grade0</text>
<text class="m" transform="translate(0 1225.9) scale(1 0.88)" x="1509.92 1518.54 1527.16 1535.78 1544.4 1553.02" y="0" font-size="15.6">grade1</text>
<text class="m" transform="translate(0 1225.9) scale(1 0.88)" x="1652.42 1661.04 1669.66 1678.28 1686.9 1695.52" y="0" font-size="15.6">grade2</text>
<text class="m" transform="translate(0 1225.9) scale(1 0.88)" x="1794.92 1803.54 1812.16 1820.78 1829.4 1838.02" y="0" font-size="15.6">grade3</text>
<text class="m" transform="translate(0 1248) scale(1 0.88)" x="1585.98 1594.6 1603.22 1611.84 1620.46" y="0" font-size="15.6">Grade</text>
<text class="m" transform="translate(0 863.5) scale(1 1.19)" x="1501.96 1512.6 1523.24 1533.88 1544.52 1555.16 1565.8 1576.44 1587.08 1597.72 1608.36 1619 1629.64 1640.28 1650.92 1661.56 1672.2 1682.84 1693.48 1704.12" y="0" font-size="16.2">Loss ratio of glands</text>
</g>
</svg>
</body></html>
